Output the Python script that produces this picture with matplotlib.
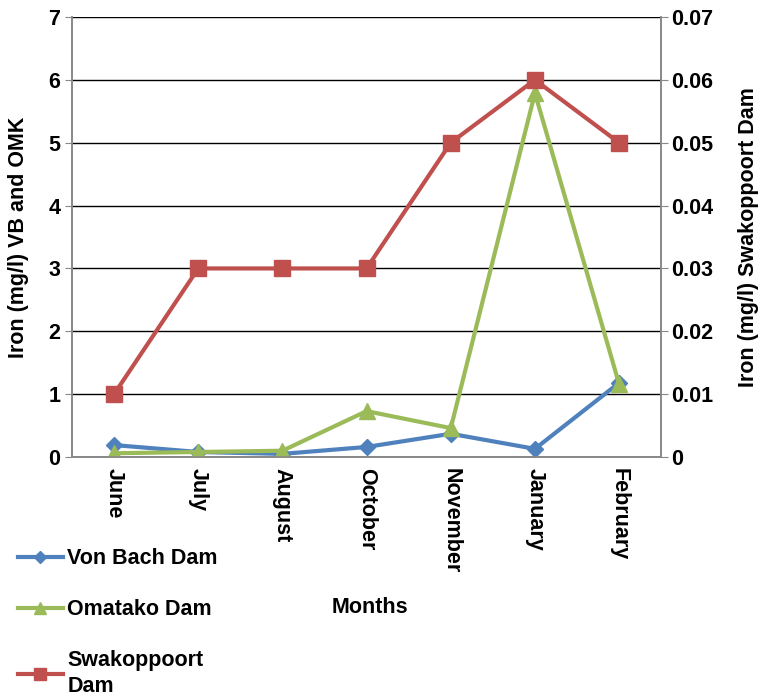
import matplotlib.pyplot as plt
from matplotlib.ticker import FuncFormatter

months = ['June', 'July', 'August', 'October', 'November', 'January', 'February']
von_bach = [0.19, 0.08, 0.05, 0.16, 0.37, 0.13, 1.18]
omatako = [0.06, 0.08, 0.10, 0.73, 0.46, 5.79, 1.16]
swakoppoort = [0.01, 0.03, 0.03, 0.03, 0.05, 0.06, 0.05]

blue = '#4F81BD'
green = '#9BBB59'
red = '#C0504D'

plt.rcParams['font.family'] = 'Liberation Sans'
plt.rcParams['font.weight'] = 'bold'
fs = 15.5

fig = plt.figure(figsize=(7.6, 6.97), dpi=100)
ax = fig.add_axes([0.0947, 0.3443, 0.7753, 0.6313])
ax2 = ax.twinx()

x = range(len(months))
l1, = ax.plot(x, von_bach, color=blue, lw=3, marker='D', ms=8, label='Von Bach Dam', zorder=3)
l2, = ax.plot(x, omatako, color=green, lw=3, marker='^', ms=11, label='Omatako Dam', zorder=4)
l3, = ax2.plot(x, swakoppoort, color=red, lw=3, marker='s', ms=11, label='Swakoppoort\nDam')

ax.set_xlim(-0.5, len(months) - 0.5)
ax.set_ylim(0, 7)
ax2.set_ylim(0, 0.07)
ax.set_yticks(range(8))
ax2.set_yticks([i / 100 for i in range(8)])
ax2.yaxis.set_major_formatter(FuncFormatter(lambda v, p: '0' if v == 0 else f'{v:.2f}'))

ax.yaxis.grid(True, color='black', lw=1)
ax.set_axisbelow(True)
ax.set_xticks(list(x))
ax.set_xticklabels(months, rotation=270, fontsize=fs, fontweight='bold')
ax.tick_params(axis='x', length=0, pad=8)
ax.tick_params(axis='y', labelsize=fs, length=5, color='#888888')
ax2.tick_params(axis='y', labelsize=fs, length=5, color='#888888', pad=2)

for a in (ax, ax2):
    a.spines['top'].set_visible(False)
    for s in ('left', 'right', 'bottom'):
        a.spines[s].set_color('#888888')
        a.spines[s].set_linewidth(1.2)

ax.set_ylabel('Iron (mg/l) VB and OMK', fontsize=fs, fontweight='bold', labelpad=14)
ax2.set_ylabel('Iron (mg/l) Swakoppoort Dam', fontsize=fs, fontweight='bold', rotation=90, labelpad=18)
fig.text(0.487, 0.129, 'Months', fontsize=fs, fontweight='bold', ha='center', va='center')

leg = fig.legend(handles=[l1, l2, l3], loc='upper left', bbox_to_anchor=(0.012, 0.226),
                 frameon=False, fontsize=fs, handlelength=2.1, handletextpad=0.2,
                 labelspacing=1.4, markerscale=0.8, borderaxespad=0)
for t in leg.get_texts():
    t.set_linespacing(1.3)

fig.savefig('out.png', dpi=100)
